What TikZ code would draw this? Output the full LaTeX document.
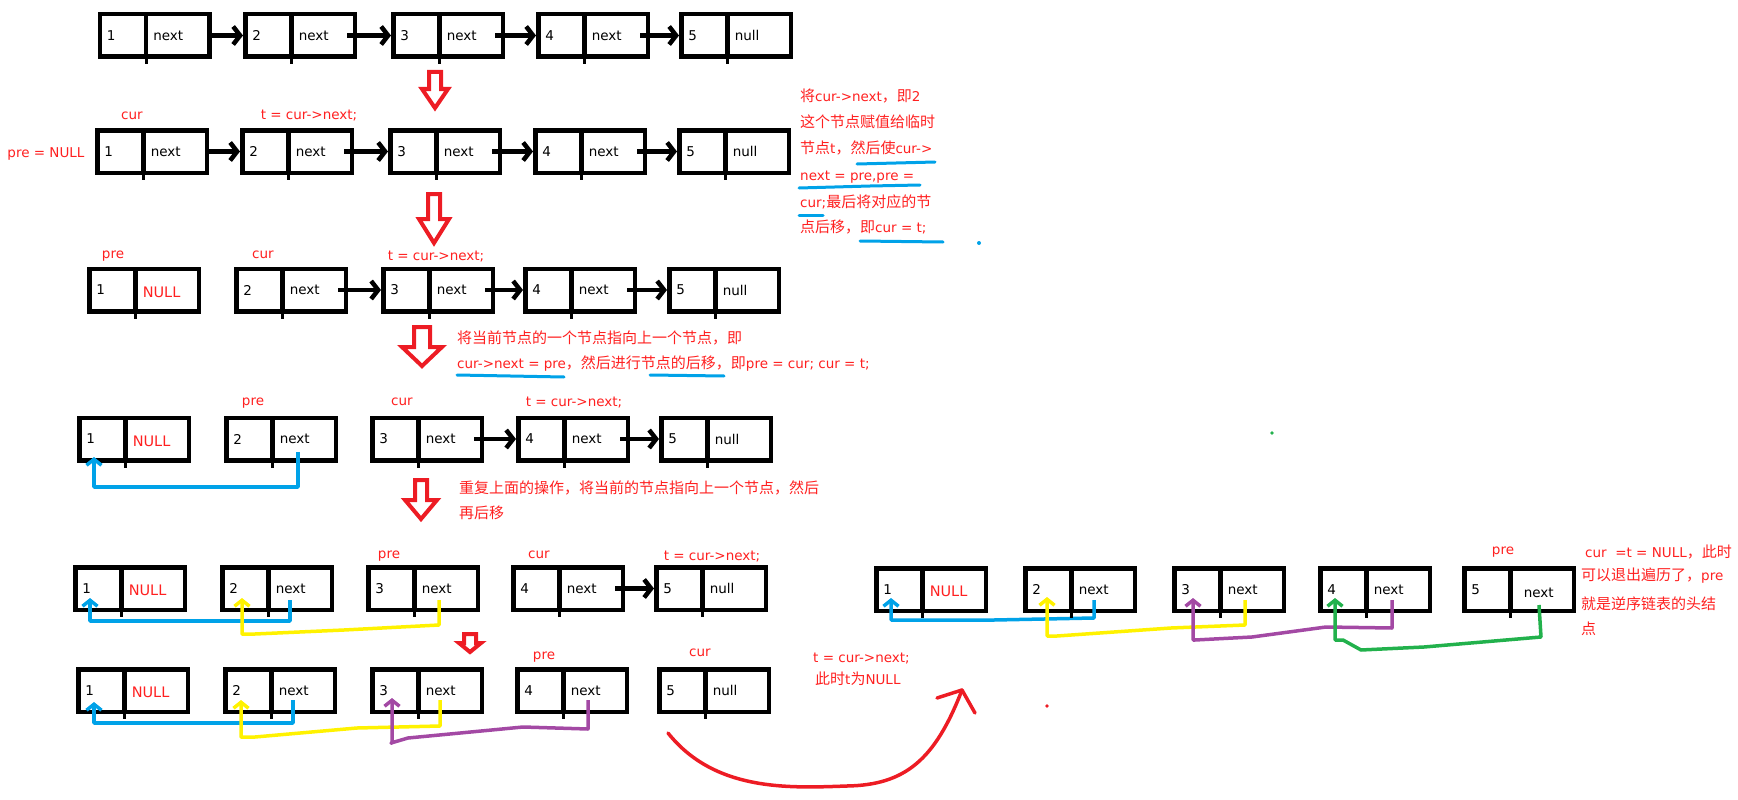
\documentclass[tikz,border=0pt]{standalone}
\usepackage{fontspec}
\setmainfont{DejaVu Sans}
\newfontfamily\zhfont{Noto Sans CJK SC}
\usepackage{tikz}
\usetikzlibrary{arrows.meta,shapes.multipart}
\definecolor{penred}{HTML}{ED1C24}
\definecolor{notered}{HTML}{FF2020}
\definecolor{penblue}{HTML}{00A2E8}
\definecolor{penyellow}{HTML}{FFF200}
\definecolor{penpurple}{HTML}{A349A4}
\definecolor{pengreen}{HTML}{22B14C}
\newcommand\zh[1]{{\zhfont\fontsize{15}{18}\selectfont #1}}
\newcommand\cellv[1]{\makebox[44pt][l]{\hspace{7pt}#1}}
\newcommand\cellp[1]{\makebox[61pt][l]{\hspace{5pt}#1}}
\newcommand\nullred{\textcolor{notered}{\raisebox{-7pt}[0pt][0pt]{\fontsize{14.5}{16}\selectfont NULL}}}
\newcommand\nextlow{\hspace{6pt}\raisebox{-8pt}[0pt][0pt]{next}}
% x, top, ledge, tip, half shaft, half head
\newcommand\hollowarrow[6]{\draw[hollow] ({#1-#5},#2) -- ({#1+#5},#2) -- ({#1+#5},#3) -- ({#1+#6},#3)
  -- (#1,#4) -- ({#1-#6},#3) -- ({#1-#5},#3) -- cycle;}

\begin{document}
\begin{tikzpicture}[x=1pt, y=-1pt,
    cell/.style={rectangle split, rectangle split horizontal, rectangle split parts=2,
                 draw, line width=4.5pt, inner sep=0pt, minimum height=42.5pt,
                 font=\fontsize{13.5}{16}\selectfont},
    link/.style={line width=4.5pt, -{Straight Barb[length=7pt,width=18pt]}},
    back/.style={draw=#1, line width=3.5pt, line join=round, -{Straight Barb[length=6pt,width=15pt]}},
    lbl/.style={text=notered, font=\fontsize{13.5}{16}\selectfont, inner sep=0pt, anchor=mid},
    note/.style={text=notered, font=\fontsize{13.5}{16}\selectfont, inner sep=0pt, anchor=west,
                 text height=12pt, text depth=2pt},
    hollow/.style={draw=penred, line width=4pt},
    uline/.style={penblue, line width=3pt, line cap=round}]
  \useasboundingbox (0,0) rectangle (1738,800);

  % row 1: the list
  \node[cell] (a1) at (154.5,35.5) {\cellv{1}\nodepart{two}\cellp{next}};
  \node[cell] (a2) at (300,35.5) {\cellv{2}\nodepart{two}\cellp{next}};
  \node[cell] (a3) at (448,35.5) {\cellv{3}\nodepart{two}\cellp{next}};
  \node[cell] (a4) at (593,35.5) {\cellv{4}\nodepart{two}\cellp{next}};
  \node[cell] (a5) at (736,35.5) {\cellv{5}\nodepart{two}\cellp{null}};
  \draw[link] ([xshift=-4pt]a1.east) -- (a2.west); \draw[link] ([xshift=-10pt]a2.east) -- (a3.west);
  \draw[link] ([xshift=-10pt]a3.east) -- (a4.west); \draw[link] ([xshift=-10pt]a4.east) -- (a5.west);
  \hollowarrow{435}{72}{89}{108}{6}{13}

  % row 2: cur, t
  \node[cell] (b1) at (152,151.5) {\cellv{1}\nodepart{two}\cellp{next}};
  \node[cell] (b2) at (297,151.5) {\cellv{2}\nodepart{two}\cellp{next}};
  \node[cell] (b3) at (445,151.5) {\cellv{3}\nodepart{two}\cellp{next}};
  \node[cell] (b4) at (590,151.5) {\cellv{4}\nodepart{two}\cellp{next}};
  \node[cell] (b5) at (734,151.5) {\cellv{5}\nodepart{two}\cellp{null}};
  \draw[link] ([xshift=-4pt]b1.east) -- (b2.west); \draw[link] ([xshift=-10pt]b2.east) -- (b3.west);
  \draw[link] ([xshift=-10pt]b3.east) -- (b4.west); \draw[link] ([xshift=-10pt]b4.east) -- (b5.west);
  \node[lbl] (pb) at (46,155) {pre = NULL};
  \node[lbl] (cb) at (132,117) {cur};
  \node[lbl] (tb) at (309,117) {t = cur->next;};
  \hollowarrow{434}{194}{219}{243}{6}{15}

  \node[note] (n1) at (800,97) {\zh{将}cur->next\zh{，即}2};
  \node[note] (n2) at (800,122) {\zh{这个节点赋值给临时}};
  \node[note] (n3) at (800,148) {\zh{节点}t\zh{，然后使}cur->};
  \node[note] (n4) at (800,175) {next = pre,pre =};
  \node[note] (n5) at (800,202) {cur;\zh{最后将对应的节}};
  \node[note] (n6) at (800,227) {\zh{点后移，即}cur = t;};
  \draw[uline] (857,164) -- (935,162);
  \draw[uline] (799,188) -- (870,186) -- (920,185);
  \draw[uline] (799,215) -- (823,215);
  \draw[uline] (860,241) -- (943,242);
  \fill[penblue] (979,243) circle (2);

  % row 3
  \node[cell] (c1) at (144,290) {\cellv{1}\nodepart{two}\cellp{\nullred}};
  \node[cell] (c2) at (291,290) {\cellv{2}\nodepart{two}\cellp{next}};
  \node[cell] (c3) at (438,290) {\cellv{3}\nodepart{two}\cellp{next}};
  \node[cell] (c4) at (580,290) {\cellv{4}\nodepart{two}\cellp{next}};
  \node[cell] (c5) at (724,290) {\cellv{5}\nodepart{two}\cellp{null}};
  \draw[link] ([xshift=-10pt]c2.east) -- (c3.west);
  \draw[link] ([xshift=-10pt]c3.east) -- (c4.west); \draw[link] ([xshift=-10pt]c4.east) -- (c5.west);
  \node[lbl] (pc) at (113,256) {pre};
  \node[lbl] (cc) at (263,256) {cur};
  \node[lbl] (tc) at (436,258) {t = cur->next;};
  \hollowarrow{422}{327}{347}{366}{8}{20}
  \node[note] (m1) at (457,338) {\zh{将当前节点的一个节点指向上一个节点，即}};
  \node[note] (m2) at (457,363) {cur->next = pre\zh{，然后进行节点的后移，即}pre = cur; cur = t;};
  \draw[uline] (457,375) -- (564,377);
  \draw[uline] (650,375) -- (724,376);

  % row 4
  \node[cell] (d1) at (134,439) {\cellv{1}\nodepart{two}\cellp{\nullred}};
  \node[cell] (d2) at (281,439) {\cellv{2}\nodepart{two}\cellp{next}};
  \node[cell] (d3) at (427,439) {\cellv{3}\nodepart{two}\cellp{next}};
  \node[cell] (d4) at (573,439) {\cellv{4}\nodepart{two}\cellp{next}};
  \node[cell] (d5) at (716,439) {\cellv{5}\nodepart{two}\cellp{null}};
  \draw[link] ([xshift=-10pt]d3.east) -- (d4.west); \draw[link] ([xshift=-10pt]d4.east) -- (d5.west);
  \draw[back=penblue] ([shift={(17,13)}]d2.center) -- ++(0,35) -| ([shift={(-40,18)}]d1.center);
  \node[lbl] (pd) at (253,403) {pre};
  \node[lbl] (cd) at (402,403) {cur};
  \node[lbl] (td) at (574,404) {t = cur->next;};
  \hollowarrow{421}{480}{500}{519}{6}{16}
  \node[note] (k1) at (459,488) {\zh{重复上面的操作，将当前的节点指向上一个节点，然后}};
  \node[note] (k2) at (459,513) {\zh{再后移}};

  % row 5
  \node[cell] (e1) at (130,588.5) {\cellv{1}\nodepart{two}\cellp{\nullred}};
  \node[cell] (e2) at (277,588.5) {\cellv{2}\nodepart{two}\cellp{next}};
  \node[cell] (e3) at (423,588.5) {\cellv{3}\nodepart{two}\cellp{next}};
  \node[cell] (e4) at (568,588.5) {\cellv{4}\nodepart{two}\cellp{next}};
  \node[cell] (e5) at (711,588.5) {\cellv{5}\nodepart{two}\cellp{null}};
  \draw[link] ([xshift=-10pt]e4.east) -- (e5.west);
  \draw[back=penblue] ([shift={(13,11.5)}]e2.center) -- ++(0,21) -| ([shift={(-40,9.5)}]e1.center);
  \draw[back=penyellow] ([shift={(16,11.5)}]e3.center) -- ++(0,25) -- ++(-95,5) -- ++(-89,4)
    -| ([shift={(-35,9.5)}]e2.center);
  \node[lbl] (pe) at (389,556) {pre};
  \node[lbl] (ce) at (539,556) {cur};
  \node[lbl] (te) at (712,558) {t = cur->next;};
  \hollowarrow{470}{634}{643}{652}{6}{11}

  % row 6
  \node[cell] (f1) at (133,690.5) {\cellv{1}\nodepart{two}\cellp{\nullred}};
  \node[cell] (f2) at (280,690.5) {\cellv{2}\nodepart{two}\cellp{next}};
  \node[cell] (f3) at (427,690.5) {\cellv{3}\nodepart{two}\cellp{next}};
  \node[cell] (f4) at (572,690.5) {\cellv{4}\nodepart{two}\cellp{next}};
  \node[cell] (f5) at (714,690.5) {\cellv{5}\nodepart{two}\cellp{null}};
  \draw[back=penblue] ([shift={(13,9.5)}]f2.center) -- ++(0,23) -| ([shift={(-39,11.5)}]f1.center);
  \draw[back=penyellow] ([shift={(13,9.5)}]f3.center) -- ++(0,26) -- ++(-83,2) -- ++(-102,9)
    -| ([shift={(-39,9.5)}]f2.center);
  \draw[back=penpurple] ([shift={(16,9.5)}]f4.center) -- ++(0,29) -- ++(-65,-2) -- ++(-115,11)
    -- ++(-17,5) -| ([shift={(-35,7.5)}]f3.center);
  \node[lbl] (pf) at (544,657) {pre};
  \node[lbl] (cf) at (700,654) {cur};
  \node[note] (u1) at (813,657) {t = cur->next;};
  \node[note] (u2) at (815,679) {\zh{此时}t\zh{为}NULL};
  \draw[penred, line width=3.5pt, line cap=round, line join=round]
    (668,733) .. controls (715,792) and (790,788) .. (847,786) .. controls (905,785) and (935,760) .. (962,690);
  \draw[penred, line width=3.5pt, line cap=round, line join=round] (937,698) -- (962,690) -- (975,713);
  \fill[penred] (1047,706) circle (1.8);

  % final list, pre is the new head
  \node[cell] (g1) at (931,589.5) {\cellv{1}\nodepart{two}\cellp{\nullred}};
  \node[cell] (g2) at (1080,589.5) {\cellv{2}\nodepart{two}\cellp{next}};
  \node[cell] (g3) at (1229,589.5) {\cellv{3}\nodepart{two}\cellp{next}};
  \node[cell] (g4) at (1375,589.5) {\cellv{4}\nodepart{two}\cellp{next}};
  \node[cell] (g5) at (1519,589.5) {\cellv{5}\nodepart{two}\cellp{\nextlow}};
  \draw[back=penblue] ([shift={(14,10.5)}]g2.center) -- ++(0,18) -- ++(-100,2) -| ([shift={(-40,8.5)}]g1.center);
  \draw[back=penyellow] ([shift={(16,10.5)}]g3.center) -- ++(0,25) -- ++(-74,3) -- ++(-114,8)
    -| ([shift={(-33,7.5)}]g2.center);
  \draw[back=penpurple] ([shift={(17,10.5)}]g4.center) -- ++(0,28) -- ++(-66,-1) -- ++(-74,10)
    -- ++(-57,3) -| ([shift={(-36,8.5)}]g3.center);
  \draw[back=pengreen] ([shift={(20,15.5)}]g5.center) -- ++(2,32) -- ++(-117,10) -- ++(-63,3)
    -- ++(-18,-10) -| ([shift={(-40,8.5)}]g4.center);
  \node[lbl] (pg) at (1503,552) {pre};
  \node[note] (v1) at (1585,552) {cur\ \ =t = NULL\zh{，此时}};
  \node[note] (v2) at (1581,575) {\zh{可以退出遍历了，}pre};
  \node[note] (v3) at (1581,604) {\zh{就是逆序链表的头结}};
  \node[note] (v4) at (1581,629) {\zh{点}};
  \fill[pengreen] (1272,433) circle (1.8);

  % little stubs under the dividers
  \foreach \r in {a,b,c,d,e,f,g}
    \foreach \i in {1,...,5}
      \draw[line width=3pt] (\r\i.one split south) -- ++(0,5);
\end{tikzpicture}
\end{document}
